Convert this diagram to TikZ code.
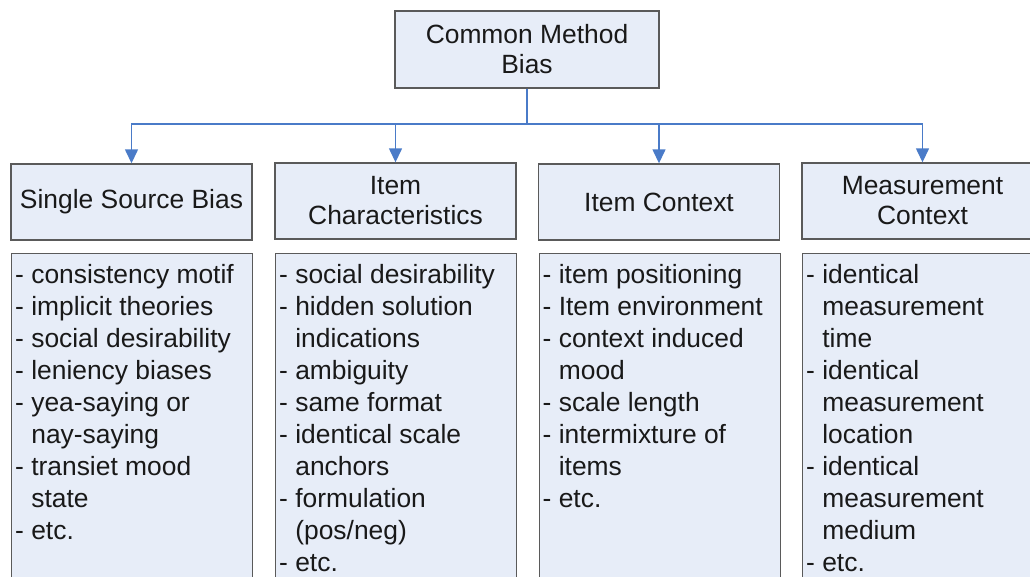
\documentclass[tikz,border=0pt]{standalone}
\usepackage{fontspec}
\setmainfont{Liberation Sans}
\usetikzlibrary{arrows.meta}
\definecolor{boxfill}{HTML}{E7EDF8}
\definecolor{boxline}{HTML}{5A5A5A}
\definecolor{linkblue}{HTML}{4A7BC8}
\newcommand\indt{\hphantom{-\ }}
\tikzset{
  x=1pt, y=-1pt,
  every node/.style={text=black!90},
  box/.style={draw=boxline, fill=boxfill, line width=1.4pt, inner sep=0pt},
  hdr/.style={box, minimum width=241pt, minimum height=76pt, align=center,
    font={\fontsize{26.4}{30}\selectfont}},
  listbox/.style={box, minimum width=241pt, minimum height=360pt, anchor=north west},
  listtext/.style={inner sep=0pt, anchor=north west, align=left,
    font={\fontsize{26.4}{32}\selectfont}},
  link/.style={draw=linkblue, line width=1.4pt},
  tip/.style={-{Triangle[width=13pt,length=14pt]}}
}
\begin{document}
\begin{tikzpicture}
\useasboundingbox (0,0) rectangle (1030,576);
\clip (0,0) rectangle (1030,576);

% root of the tree
\node[box, minimum width=264pt, minimum height=77pt, align=center,
  font={\fontsize{26.4}{30}\selectfont}] (root) at (527,49.5) {Common Method\\Bias};

% four source categories
\node[hdr] (h1) at (131.5,202) {Single Source Bias};
\node[hdr] (h2) at (395.5,201) {Item\\Characteristics};
\node[hdr] (h3) at (659,202) {Item Context};
\node[hdr] (h4) at (922.5,201) {Measurement\\Context};

% branching connectors
\coordinate (j) at (527,124);
\foreach \h in {h1,h2,h3,h4}
  \draw[link, tip] (root.south) -- (j) -| (\h.north);

% lists of examples under each category
\node[listbox] (b1) at (11,253) {};
\node[listbox] (b2) at (275,253) {};
\node[listbox] (b3) at (538.5,253) {};
\node[listbox] (b4) at (802,253) {};

\node[listtext] (t1) at ([xshift=4pt,yshift=-11pt]b1.north west) {%
- consistency motif\\
- implicit theories\\
- social desirability\\
- leniency biases\\
- yea-saying or\\
\indt nay-saying\\
- transiet mood\\
\indt state\\
- etc.};

\node[listtext] (t2) at ([xshift=4pt,yshift=-11pt]b2.north west) {%
- social desirability\\
- hidden solution\\
\indt indications\\
- ambiguity\\
- same format\\
- identical scale\\
\indt anchors\\
- formulation\\
\indt (pos/neg)\\
- etc.};

\node[listtext] (t3) at ([xshift=4pt,yshift=-11pt]b3.north west) {%
- item positioning\\
- Item environment\\
- context induced\\
\indt mood\\
- scale length\\
- intermixture of\\
\indt items\\
- etc.};

\node[listtext] (t4) at ([xshift=4pt,yshift=-11pt]b4.north west) {%
- identical\\
\indt measurement\\
\indt time\\
- identical\\
\indt measurement\\
\indt location\\
- identical\\
\indt measurement\\
\indt medium\\
- etc.};
\end{tikzpicture}
\end{document}
